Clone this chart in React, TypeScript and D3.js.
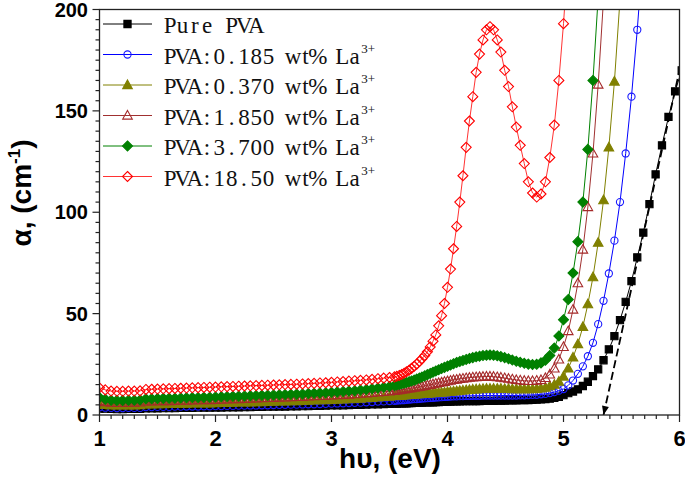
import React from "react";
import * as d3 from "d3";

// Photon energy grid (eV): visible/NIR part and UV part (2 nm steps)
const ENERGY_VIS = [
  1.0, 1.05, 1.1, 1.15, 1.2, 1.25, 1.3, 1.35, 1.4, 1.45,
  1.5, 1.55, 1.6, 1.65, 1.7, 1.75, 1.8, 1.85, 1.9, 1.95,
  2.0, 2.05, 2.1, 2.15, 2.2, 2.25, 2.3, 2.35, 2.4, 2.45,
  2.5, 2.55, 2.6, 2.65, 2.7, 2.75, 2.8, 2.85, 2.9, 2.95,
  3.0, 3.05, 3.1, 3.15, 3.2, 3.25, 3.3, 3.35, 3.4, 3.45,
  3.5,
];
const ENERGY_UV = [
  3.543, 3.563, 3.584, 3.605, 3.626, 3.647, 3.669, 3.69, 3.713, 3.735,
  3.758, 3.78, 3.804, 3.827, 3.851, 3.875, 3.899, 3.924, 3.949, 3.974,
  4.0, 4.026, 4.052, 4.079, 4.106, 4.133, 4.161, 4.189, 4.218, 4.247,
  4.276, 4.306, 4.336, 4.366, 4.397, 4.429, 4.46, 4.493, 4.526, 4.559,
  4.593, 4.627, 4.662, 4.697, 4.733, 4.769, 4.806, 4.844, 4.882, 4.921,
  4.96, 5.0, 5.041, 5.082, 5.124, 5.167, 5.21, 5.254, 5.299, 5.345,
  5.391, 5.439, 5.487, 5.536, 5.586, 5.636, 5.688, 5.741, 5.794, 5.849,
  5.905, 5.962, 6.019,
];

// Absorption coefficient alpha (cm^-1)
const PURE_VIS = [
  3.2, 3.1, 3.0, 2.9, 2.9, 3.0, 3.0, 3.0, 3.3, 3.3,
  3.3, 3.4, 3.4, 3.4, 3.5, 3.5, 3.5, 3.6, 3.6, 3.6,
  3.7, 3.7, 3.8, 3.8, 3.8, 3.9, 3.9, 4.0, 4.0, 4.1,
  4.1, 4.2, 4.2, 4.3, 4.3, 4.4, 4.4, 4.5, 4.5, 4.6,
  4.7, 4.7, 4.8, 4.9, 5.0, 5.0, 5.1, 5.2, 5.3, 5.4,
  5.5,
];
const PURE_UV = [
  5.6, 5.6, 5.7, 5.7, 5.8, 5.8, 5.9, 5.9, 6.0, 6.0,
  6.1, 6.1, 6.2, 6.2, 6.3, 6.3, 6.4, 6.4, 6.5, 6.5,
  6.6, 6.6, 6.7, 6.7, 6.7, 6.8, 6.8, 6.8, 6.9, 6.9,
  6.9, 7.0, 7.0, 7.0, 7.0, 7.1, 7.1, 7.1, 7.2, 7.2,
  7.2, 7.3, 7.3, 7.4, 7.5, 7.6, 7.7, 7.9, 8.1, 8.5,
  9.0, 9.8, 10.8, 11.6, 12.6, 14.3, 16.4, 19.2, 22.5, 27.0,
  32.4, 38.9, 46.8, 55.8, 66, 77.7, 90, 104, 118.7, 133,
  147, 159.6, 170,
];
const BLUE_VIS = [
  3.8, 3.6, 3.5, 3.4, 3.4, 3.5, 3.5, 3.5, 3.9, 3.9,
  4.0, 4.0, 4.0, 4.1, 4.1, 4.2, 4.2, 4.2, 4.3, 4.3,
  4.4, 4.4, 4.5, 4.5, 4.6, 4.6, 4.7, 4.7, 4.8, 4.8,
  4.9, 5.0, 5.0, 5.1, 5.1, 5.2, 5.3, 5.3, 5.4, 5.5,
  5.6, 5.7, 5.8, 5.9, 6.0, 6.1, 6.3, 6.4, 6.6, 6.7,
  6.9,
];
const BLUE_UV = [
  7.0, 7.1, 7.2, 7.3, 7.4, 7.5, 7.6, 7.7, 7.8, 7.9,
  8.0, 8.1, 8.2, 8.3, 8.4, 8.5, 8.6, 8.7, 8.8, 8.9,
  9.0, 9.1, 9.2, 9.2, 9.3, 9.3, 9.4, 9.4, 9.5, 9.5,
  9.5, 9.6, 9.6, 9.6, 9.6, 9.6, 9.6, 9.6, 9.6, 9.6,
  9.6, 9.7, 9.7, 9.8, 9.9, 10.0, 10.2, 10.4, 10.8, 11.3,
  12.0, 12.8, 14.6, 17.0, 20.3, 24.0, 29.0, 35.6, 44.8, 56.3,
  69.8, 86, 105, 129, 157, 190, 230,
];
const OLIVE_VIS = [
  5.2, 5.0, 4.8, 4.7, 4.7, 4.8, 4.8, 4.9, 5.3, 5.3,
  5.4, 5.4, 5.5, 5.5, 5.6, 5.6, 5.7, 5.7, 5.8, 5.8,
  5.9, 6.0, 6.0, 6.1, 6.2, 6.2, 6.3, 6.4, 6.4, 6.5,
  6.6, 6.7, 6.7, 6.8, 6.9, 7.0, 7.1, 7.2, 7.3, 7.4,
  7.5, 7.6, 7.7, 7.8, 8.0, 8.1, 8.3, 8.5, 8.7, 8.9,
  9.1,
];
const OLIVE_UV = [
  9.3, 9.4, 9.5, 9.6, 9.7, 9.8, 9.9, 10.0, 10.1, 10.2,
  10.3, 10.4, 10.5, 10.6, 10.7, 10.8, 10.9, 11.0, 11.1, 11.2,
  11.4, 11.5, 11.7, 11.8, 12.0, 12.1, 12.3, 12.4, 12.6, 12.7,
  12.8, 12.9, 13.0, 13.0, 13.0, 13.0, 13.0, 12.9, 12.9, 12.8,
  12.8, 12.8, 12.8, 12.8, 12.8, 12.9, 13.1, 13.5, 14.2, 15.0,
  16.5, 19.0, 23.0, 28.4, 35.0, 43.5, 54.7, 68, 85, 106,
  132, 164.5, 205,
];
const BROWN_VIS = [
  6.8, 6.4, 6.1, 6.0, 6.0, 6.1, 6.1, 6.2, 6.7, 6.7,
  6.8, 6.9, 6.9, 7.0, 7.1, 7.1, 7.2, 7.3, 7.3, 7.4,
  7.5, 7.6, 7.7, 7.8, 7.9, 8.0, 8.1, 8.2, 8.3, 8.4,
  8.5, 8.6, 8.7, 8.8, 8.9, 9.0, 9.2, 9.3, 9.4, 9.5,
  9.7, 9.8, 10.0, 10.1, 10.3, 10.5, 10.7, 10.9, 11.2, 11.4,
  11.7,
];
const BROWN_UV = [
  11.9, 12.1, 12.3, 12.5, 12.7, 12.9, 13.1, 13.3, 13.5, 13.7,
  13.9, 14.1, 14.4, 14.7, 14.9, 15.2, 15.5, 15.8, 16.1, 16.4,
  16.7, 17.0, 17.3, 17.5, 17.8, 18.0, 18.2, 18.4, 18.6, 18.7,
  18.8, 18.9, 19.0, 19.0, 18.9, 18.7, 18.5, 18.2, 17.9, 17.6,
  17.3, 17.1, 16.9, 16.8, 16.8, 17.0, 17.3, 18.3, 20.0, 23.0,
  27.4, 33.6, 41.4, 52, 65, 81.6, 102.6, 129, 163, 205,
];
const GREEN_VIS = [
  8.6, 7.8, 7.3, 7.2, 7.2, 7.3, 7.3, 7.4, 8.0, 8.0,
  8.1, 8.2, 8.3, 8.3, 8.4, 8.5, 8.6, 8.6, 8.7, 8.8,
  8.9, 9.0, 9.1, 9.2, 9.3, 9.4, 9.5, 9.6, 9.7, 9.8,
  9.9, 10.0, 10.1, 10.2, 10.3, 10.4, 10.6, 10.7, 10.9, 11.0,
  11.2, 11.4, 11.6, 11.8, 12.0, 12.3, 12.6, 12.9, 13.3, 13.7,
  14.1,
];
const GREEN_UV = [
  14.5, 14.8, 15.1, 15.4, 15.7, 16.0, 16.4, 16.8, 17.2, 17.7,
  18.2, 18.7, 19.3, 19.9, 20.5, 21.1, 21.7, 22.3, 22.9, 23.5,
  24.1, 24.7, 25.3, 25.9, 26.4, 26.9, 27.4, 27.9, 28.3, 28.7,
  29.0, 29.3, 29.5, 29.6, 29.5, 29.2, 28.8, 28.3, 27.7, 27.1,
  26.5, 26.0, 25.5, 25.1, 24.9, 25.0, 25.7, 27.0, 29.3, 33,
  39, 47, 57, 70, 85.5, 105, 131, 165, 206,
];
const RED_VIS = [
  13.4, 12.4, 11.8, 11.7, 11.7, 11.8, 11.8, 11.9, 12.6, 12.7,
  12.8, 12.9, 13.0, 13.1, 13.2, 13.3, 13.4, 13.5, 13.6, 13.7,
  13.8, 13.9, 14.0, 14.1, 14.2, 14.3, 14.4, 14.5, 14.6, 14.7,
  14.8, 14.9, 15.0, 15.1, 15.2, 15.3, 15.5, 15.6, 15.8, 15.9,
  16.1, 16.3, 16.5, 16.7, 16.9, 17.1, 17.3, 17.6, 17.9, 18.2,
  18.5,
];
const RED_UV = [
  18.8, 19.1, 19.5, 20.0, 20.6, 21.3, 22.1, 23.0, 24.0, 25.1,
  26.4, 27.8, 29.4, 31.2, 33.6, 36.4, 39.5, 44, 49, 55,
  63, 72, 82, 93, 105, 118, 132, 145, 157, 169,
  178, 185, 190, 191.5, 190, 185, 179, 170, 162, 152,
  142, 133, 124, 115, 109.5, 107.5, 109, 115, 127, 143,
  165, 193, 228,
];

const SERIES_LABELS = [
  "Pure PVA",
  "PVA:0.185 wt% La",
  "PVA:0.370 wt% La",
  "PVA:1.850 wt% La",
  "PVA:3.700 wt% La",
  "PVA:18.50 wt% La",
];
const SERIES_VALUES = [
  [PURE_VIS, PURE_UV],
  [BLUE_VIS, BLUE_UV],
  [OLIVE_VIS, OLIVE_UV],
  [BROWN_VIS, BROWN_UV],
  [GREEN_VIS, GREEN_UV],
  [RED_VIS, RED_UV],
];
const X_TICKS = [1, 2, 3, 4, 5, 6];
const Y_TICKS = [0, 50, 100, 150, 200];
const TANGENT = [
  [5.345, 0],
  [6.0, 170],
];

const STYLES = [
  { line: "#000000", stroke: "#000000", fill: "#000000", shape: "square", sup: false },
  { line: "#0000ff", stroke: "#1a1aff", fill: "none", shape: "circle", sup: true },
  { line: "#808000", stroke: "#808000", fill: "#808000", shape: "triangle", sup: true },
  { line: "#a03030", stroke: "#a52a2a", fill: "none", shape: "triangle", sup: true },
  { line: "#008000", stroke: "#008000", fill: "#008000", shape: "diamond", sup: true },
  { line: "#ff3333", stroke: "#ff0000", fill: "none", shape: "diamond", sup: true },
];

function markerPath(shape: string): string {
  switch (shape) {
    case "square":
      return "M-3.6,-3.6H3.6V3.6H-3.6Z";
    case "circle":
      return "M3.6,0A3.6,3.6 0 1,1 -3.6,0A3.6,3.6 0 1,1 3.6,0Z";
    case "triangle":
      return "M0,-5L4.8,3.6L-4.8,3.6Z";
    case "diamond":
      return "M0,-5L5,0L0,5L-5,0Z";
    default:
      return "";
  }
}

const W = 685;
const H = 484;

export default function App() {
  const x = d3.scaleLinear().domain([1, 6]).range([99.5, 679.5]);
  const y = d3.scaleLinear().domain([0, 200]).range([415, 9.5]);

  const series = SERIES_VALUES.map(([vis, uv]) => {
    const pts: [number, number][] = [];
    vis.forEach((v, i) => pts.push([ENERGY_VIS[i], v]));
    uv.forEach((v, i) => pts.push([ENERGY_UV[i], v]));
    return pts;
  });

  const line = d3
    .line<[number, number]>()
    .x((d) => x(d[0]))
    .y((d) => y(d[1]));

  const xMinor = x.ticks(50);
  const yMinor = d3.range(0, 201, 5);

  const tx0 = x(TANGENT[0][0]);
  const ty0 = y(TANGENT[0][1]);
  const tx1 = x(TANGENT[1][0]);
  const ty1 = y(TANGENT[1][1]);
  const ang = Math.atan2(ty0 - ty1, tx0 - tx1);
  const ah = 9;
  const aw = 3.5;
  const bx = tx0 - ah * Math.cos(ang);
  const by = ty0 - ah * Math.sin(ang);
  const arrow = `M${tx0},${ty0}L${bx + aw * Math.sin(ang)},${by - aw * Math.cos(ang)}L${bx - aw * Math.sin(ang)},${by + aw * Math.cos(ang)}Z`;

  const legendX0 = 164;
  const cell = 12.3;

  return (
    <svg width={W} height={H} style={{ display: "block", position: "absolute", left: 0, top: 0, background: "#fff" }}>
      <defs>
        <clipPath id="plotclip">
          <rect x={99.5} y={9.5} width={580} height={405.5} />
        </clipPath>
      </defs>
      <rect x={0} y={0} width={W} height={H} fill="#fff" />

      <g clipPath="url(#plotclip)">
        {series.map((pts, si) => {
          const st = STYLES[si];
          return (
            <g key={si}>
              <path d={line(pts) || ""} fill="none" stroke={st.line} strokeWidth={1} />
              {pts.map((p, i) => (
                <path
                  key={i}
                  d={markerPath(st.shape)}
                  transform={`translate(${x(p[0])},${y(p[1])})`}
                  fill={st.fill}
                  stroke={st.stroke}
                  strokeWidth={1.1}
                />
              ))}
            </g>
          );
        })}
        <line x1={tx0} y1={ty0} x2={tx1} y2={ty1} stroke="#000" strokeWidth={1.8} strokeDasharray="8,4" />
        <path d={arrow} fill="#000" />
      </g>

      {/* frame */}
      <rect x={99.5} y={9.5} width={580} height={405.5} fill="none" stroke="#222" strokeWidth={1.3} />

      {/* x ticks */}
      {xMinor.map((t, i) => {
        const major = Math.abs(t - Math.round(t)) < 1e-6;
        return (
          <line key={i} x1={x(t)} x2={x(t)} y1={415} y2={415 + (major ? 7 : 4)} stroke="#222" strokeWidth={1.2} />
        );
      })}
      {X_TICKS.map((t) => (
        <text
          key={t}
          x={x(t)}
          y={446}
          textAnchor="middle"
          fontFamily="Liberation Sans, Arial, sans-serif"
          fontWeight="bold"
          fontSize={22}
        >
          {t}
        </text>
      ))}

      {/* y ticks */}
      {yMinor.map((t, i) => {
        const major = t % 50 === 0;
        return (
          <line key={i} x1={99.5 - (major ? 7 : 4)} x2={99.5} y1={y(t)} y2={y(t)} stroke="#222" strokeWidth={1.2} />
        );
      })}
      {Y_TICKS.map((t) => (
        <text
          key={t}
          x={88}
          y={y(t)}
          dy="0.36em"
          textAnchor="end"
          fontFamily="Liberation Sans, Arial, sans-serif"
          fontWeight="bold"
          fontSize={20}
        >
          {t}
        </text>
      ))}

      {/* axis titles */}
      <text
        x={390}
        y={468}
        textAnchor="middle"
        fontFamily="Liberation Sans, Arial, sans-serif"
        fontWeight="bold"
        fontSize={28}
      >
        hυ, (eV)
      </text>
      <text
        transform="translate(31,193) rotate(-90)"
        textAnchor="middle"
        fontFamily="Liberation Sans, Arial, sans-serif"
        fontWeight="bold"
        fontSize={28}
      >
        α, (cm<tspan dy={-11} fontSize={17}>-1</tspan>
        <tspan dy={11}>)</tspan>
      </text>

      {/* legend */}
      {SERIES_LABELS.map((lab, i) => {
        const st = STYLES[i];
        const cy = 24 + i * 30.5;
        const chars = Array.from(lab);
        const xs = chars.map((_, k) => legendX0 + cell / 2 + k * cell);
        return (
          <g key={i}>
            <line x1={103} x2={152} y1={cy} y2={cy} stroke={st.line} strokeWidth={1} />
            <path d={markerPath(st.shape)} transform={`translate(127.5,${cy})`} fill={st.fill} stroke={st.stroke} strokeWidth={1.1} />
            <text
              x={xs.join(" ")}
              y={cy + 9}
              textAnchor="middle"
              fontFamily="Liberation Serif, Times New Roman, serif"
              fontSize={23}
              style={{ whiteSpace: "pre" }}
              fill="#111"
            >
              {lab}
            </text>
            {st.sup && (
              <text
                x={legendX0 + chars.length * cell + 0.5}
                y={cy - 2}
                fontFamily="Liberation Serif, Times New Roman, serif"
                fontSize={13}
                fill="#111"
              >
                3+
              </text>
            )}
          </g>
        );
      })}
    </svg>
  );
}
